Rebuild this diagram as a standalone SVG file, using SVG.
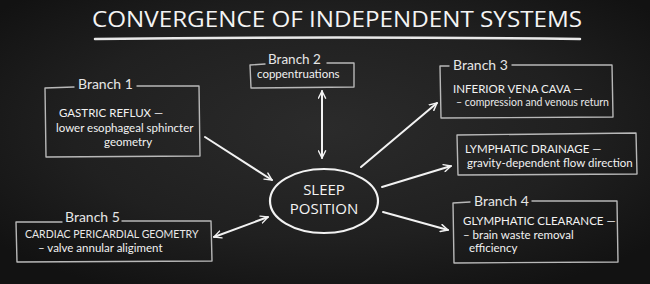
<svg xmlns="http://www.w3.org/2000/svg" width="650" height="284" viewBox="0 0 650 284">
<defs>
<radialGradient id="bg" cx="50%" cy="45%" r="65%">
<stop offset="0" stop-color="#2b2b2b"/>
<stop offset="0.6" stop-color="#202020"/>
<stop offset="1" stop-color="#121212"/>
</radialGradient>
<marker id="ah" viewBox="0 0 10 10" refX="9" refY="5" markerWidth="9" markerHeight="9" markerUnits="userSpaceOnUse" orient="auto-start-reverse">
<path d="M1,1 L9,5 L1,9" fill="none" stroke="#f2f2f2" stroke-width="1.6" stroke-linecap="round" stroke-linejoin="round"/>
</marker>
<style>
.box{fill:none;stroke:#b8b8b8;stroke-width:1.4;stroke-linejoin:round;stroke-linecap:round}
.lbl{font-family:Lato,"Open Sans","Liberation Sans",sans-serif;font-size:14px;fill:#e6e6e6}
.t{font-family:Lato,"Open Sans","Liberation Sans",sans-serif;font-size:11.5px;fill:#f2f2f2}
.ts{font-family:Lato,"Open Sans","Liberation Sans",sans-serif;font-size:10.5px;fill:#e8e8e8}
.arr{fill:none;stroke:#f2f2f2;stroke-width:2;stroke-linecap:round}
.title{font-family:"Open Sans","Liberation Sans",sans-serif;font-size:22px;fill:#f4f4f4}
.center{font-family:"Open Sans","Liberation Sans",sans-serif;font-size:15px;fill:#f4f4f4}
</style>
</defs>
<rect width="650" height="284" fill="url(#bg)"/>

<g id="title">
<text class="title" x="337" y="27" text-anchor="middle" textLength="490" lengthAdjust="spacingAndGlyphs">CONVERGENCE OF INDEPENDENT SYSTEMS</text>
<path d="M95,39 Q337,36 580,39" fill="none" stroke="#e8e8e8" stroke-width="2.5" stroke-linecap="round"/>
</g>

<g id="connectors">
<line class="arr" x1="205" y1="137" x2="272" y2="180" marker-end="url(#ah)"/>
<line class="arr" x1="322" y1="91" x2="322" y2="158" marker-start="url(#ah)" marker-end="url(#ah)"/>
<line class="arr" x1="214" y1="237" x2="268" y2="217" marker-start="url(#ah)" marker-end="url(#ah)"/>
<line class="arr" x1="361" y1="167" x2="437" y2="103" marker-end="url(#ah)"/>
<line class="arr" x1="382" y1="187" x2="451" y2="166" marker-end="url(#ah)"/>
<line class="arr" x1="383" y1="212" x2="448" y2="230" marker-end="url(#ah)"/>
</g>

<g id="center">
<ellipse cx="324" cy="201" rx="54" ry="32" fill="none" stroke="#f2f2f2" stroke-width="2.2"/>
<text class="center" x="324" y="195" text-anchor="middle">SLEEP</text>
<text class="center" x="324" y="214" text-anchor="middle">POSITION</text>
</g>

<g id="branch1">
<path class="box" d="M74,87 L45,88 L46,157 L200,156 L199,86 L137,86"/>
<text class="lbl" x="78" y="89">Branch 1</text>
<text class="t" x="59" y="117">GASTRIC REFLUX —</text>
<text class="t" x="56" y="132">lower esophageal sphincter</text>
<text class="t" x="104" y="146">geometry</text>
</g>

<g id="branch2">
<path class="box" d="M265,64 L250,65 L251,88 L354,87 L354,63 L327,63"/>
<text class="lbl" x="268" y="64" style="font-size:13.5px">Branch 2</text>
<text class="t" x="257" y="78">coppentruations</text>
</g>

<g id="branch3">
<path class="box" d="M449,66 L440,66 L441,118 L613,117 L612,65 L512,65"/>
<text class="lbl" x="453" y="70">Branch 3</text>
<text class="t" x="453" y="93">INFERIOR VENA CAVA —</text>
<text class="ts" x="456" y="106">– compression and venous return</text>
</g>

<g id="lymphatic">
<path class="box" d="M457,135 L458,175 L637,174 L636,133 Z"/>
<text class="t" x="465" y="153">LYMPHATIC DRAINAGE —</text>
<text class="t" x="467" y="167">gravity-dependent flow direction</text>
</g>

<g id="branch4">
<path class="box" d="M470,202 L453,203 L454,263 L618,262 L617,201 L532,201"/>
<text class="lbl" x="474" y="206">Branch 4</text>
<text class="t" x="463" y="225">GLYMPHATIC CLEARANCE —</text>
<text class="t" x="463" y="239">– brain waste removal</text>
<text class="t" x="469" y="252">efficiency</text>
</g>

<g id="branch5">
<path class="box" d="M62,222 L16,222 L17,262 L212,261 L211,221 L122,221"/>
<text class="lbl" x="65" y="222">Branch 5</text>
<text class="ts" x="25" y="238">CARDIAC PERICARDIAL GEOMETRY</text>
<text class="t" x="38" y="252">– valve annular aligiment</text>
</g>
</svg>
